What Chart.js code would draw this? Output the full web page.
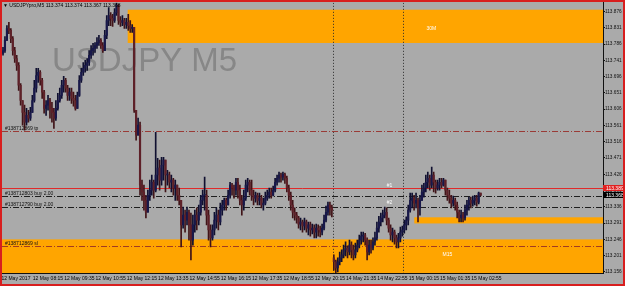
<!DOCTYPE html>
<html lang="en">
<head>
  <meta charset="UTF-8">
  <title>USDJPY M5</title>
  <script src="https://cdn.jsdelivr.net/npm/chart.js"></script>
  <style>
    html, body { margin: 0; padding: 0; background: #aaaaaa; overflow: hidden; }
    canvas { display: block; }
  </style>
</head>
<body>
  <canvas id="mtChart" width="625" height="286"></canvas>

  <script>
    const symbolTitle = 'USDJPY M5';
    const headerText = '\u25BC USDJPYpro,M5 113.374 113.374 113.367 113.368';

    // OHLC, one entry per M5 bar, 12 May 06:55 .. 15 May 03:15
    const opens = [
      113.760,113.768,113.796,113.829,113.824,113.801,113.768,113.746,113.727,113.672,
      113.630,113.597,113.570,113.589,113.581,113.597,113.630,113.664,113.699,113.708,
      113.686,113.653,113.608,113.617,113.630,113.608,113.597,113.581,113.608,113.630,
      113.644,113.672,113.686,113.664,113.644,113.653,113.636,113.630,113.608,113.644,
      113.686,113.708,113.719,113.727,113.735,113.755,113.768,113.774,113.782,113.790,
      113.796,113.782,113.768,113.810,113.851,113.865,113.857,113.851,113.873,113.893,
      113.851,113.846,113.851,113.840,113.846,113.837,113.829,113.832,113.603,113.534,
      113.562,113.396,113.377,113.354,113.321,113.368,113.382,113.404,113.382,113.424,
      113.443,113.410,113.451,113.465,113.424,113.424,113.404,113.410,113.388,113.396,
      113.368,113.354,113.286,113.313,113.299,113.321,113.286,113.244,113.286,113.313,
      113.299,113.321,113.354,113.368,113.368,113.313,113.272,113.250,113.272,113.299,
      113.313,113.294,113.327,113.341,113.354,113.341,113.368,113.396,113.388,113.382,
      113.404,113.382,113.354,113.341,113.360,113.396,113.404,113.382,113.368,113.360,
      113.368,113.354,113.360,113.341,113.346,113.360,113.368,113.377,113.368,113.382,
      113.404,113.415,113.424,113.418,113.426,113.415,113.388,113.368,113.341,113.321,
      113.313,113.305,113.288,113.294,113.283,113.294,113.277,113.286,113.272,113.277,
      113.266,113.277,113.272,113.266,113.277,113.299,113.321,113.341,113.333,113.195,
      113.184,113.167,113.184,113.195,113.203,113.217,113.222,113.211,113.230,113.217,
      113.203,113.217,113.230,113.244,113.255,113.258,113.244,113.211,113.230,113.222,
      113.239,113.250,113.277,113.294,113.305,113.313,113.321,113.299,113.277,113.258,
      113.266,113.250,113.239,113.250,113.266,113.272,113.286,113.299,113.327,113.354,
      113.360,113.346,113.354,113.333,113.354,113.377,113.388,113.404,113.415,113.396,
      113.424,113.404,113.388,113.396,113.404,113.396,113.410,113.382,113.368,113.360,
      113.346,113.354,113.341,113.321,113.305,113.313,113.305,113.327,113.341,113.354,
      113.346,113.354,113.360,113.349,113.374
    ];
    const highs = [
      113.777,113.807,113.837,113.846,113.829,113.807,113.777,113.755,113.735,113.677,
      113.630,113.617,113.608,113.603,113.611,113.644,113.686,113.719,113.719,113.713,
      113.691,113.658,113.630,113.644,113.636,113.625,113.608,113.630,113.650,113.664,
      113.686,113.697,113.691,113.672,113.664,113.664,113.653,113.644,113.653,113.699,
      113.719,113.735,113.741,113.746,113.768,113.782,113.788,113.790,113.804,113.810,
      113.801,113.790,113.824,113.865,113.887,113.873,113.868,113.884,113.901,113.895,
      113.862,113.865,113.857,113.857,113.868,113.851,113.840,113.832,113.597,113.581,
      113.570,113.410,113.396,113.368,113.382,113.410,113.424,113.410,113.542,113.470,
      113.465,113.473,113.473,113.465,113.437,113.432,113.424,113.415,113.410,113.396,
      113.388,113.354,113.335,113.327,113.335,113.327,113.319,113.313,113.327,113.333,
      113.341,113.368,113.382,113.418,113.382,113.327,113.286,113.286,113.321,113.333,
      113.327,113.346,113.354,113.360,113.360,113.382,113.404,113.401,113.396,113.415,
      113.415,113.396,113.368,113.382,113.410,113.415,113.410,113.410,113.382,113.377,
      113.374,113.374,113.368,113.360,113.377,113.382,113.388,113.388,113.393,113.415,
      113.424,113.432,113.429,113.432,113.429,113.421,113.396,113.377,113.354,113.333,
      113.321,113.310,113.305,113.299,113.305,113.299,113.294,113.294,113.288,113.286,
      113.288,113.286,113.283,113.288,113.313,113.338,113.349,113.349,113.341,113.203,
      113.189,113.195,113.211,113.217,113.230,113.239,113.228,113.244,113.239,113.230,
      113.236,113.244,113.258,113.266,113.266,113.263,113.250,113.244,113.244,113.250,
      113.266,113.294,113.310,113.319,113.327,113.335,113.333,113.305,113.286,113.277,
      113.272,113.258,113.263,113.280,113.283,113.299,113.308,113.341,113.374,113.374,
      113.368,113.374,113.360,113.368,113.396,113.401,113.424,113.432,113.424,113.446,
      113.432,113.410,113.410,113.415,113.415,113.415,113.410,113.388,113.382,113.368,
      113.366,113.360,113.349,113.327,113.327,113.321,113.341,113.354,113.363,113.363,
      113.366,113.368,113.368,113.377,113.374
    ];
    const lows = [
      113.755,113.763,113.796,113.815,113.790,113.755,113.735,113.713,113.658,113.617,
      113.562,113.548,113.562,113.570,113.575,113.597,113.625,113.653,113.680,113.672,
      113.636,113.595,113.589,113.603,113.581,113.570,113.553,113.575,113.603,113.625,
      113.636,113.653,113.653,113.630,113.630,113.622,113.614,113.603,113.608,113.641,
      113.680,113.699,113.708,113.713,113.727,113.746,113.755,113.763,113.774,113.782,
      113.774,113.763,113.768,113.801,113.837,113.837,113.835,113.846,113.865,113.840,
      113.835,113.837,113.829,113.829,113.824,113.818,113.818,113.597,113.520,113.542,
      113.368,113.354,113.327,113.305,113.327,113.354,113.368,113.360,113.377,113.396,
      113.382,113.396,113.410,113.377,113.396,113.388,113.377,113.368,113.354,113.354,
      113.341,113.225,113.277,113.266,113.286,113.244,113.189,113.230,113.266,113.272,
      113.286,113.313,113.341,113.327,113.286,113.244,113.225,113.244,113.258,113.277,
      113.272,113.286,113.313,113.327,113.327,113.341,113.360,113.368,113.360,113.368,
      113.360,113.341,113.313,113.327,113.354,113.377,113.368,113.354,113.341,113.349,
      113.341,113.341,113.333,113.327,113.341,113.354,113.360,113.360,113.366,113.377,
      113.396,113.404,113.404,113.410,113.401,113.377,113.354,113.327,113.305,113.299,
      113.291,113.277,113.272,113.266,113.272,113.266,113.258,113.255,113.261,113.250,
      113.250,113.255,113.253,113.258,113.272,113.294,113.313,113.313,113.308,113.161,
      113.150,113.156,113.175,113.184,113.195,113.200,113.195,113.203,113.195,113.189,
      113.195,113.211,113.222,113.233,113.239,113.230,113.189,113.203,113.208,113.217,
      113.230,113.244,113.266,113.283,113.294,113.305,113.286,113.266,113.244,113.239,
      113.233,113.222,113.222,113.239,113.255,113.263,113.272,113.286,113.321,113.333,
      113.327,113.333,113.294,113.313,113.354,113.363,113.377,113.388,113.382,113.388,
      113.377,113.374,113.382,113.382,113.388,113.393,113.368,113.354,113.346,113.333,
      113.338,113.327,113.305,113.294,113.294,113.294,113.299,113.313,113.327,113.333,
      113.338,113.341,113.338,113.344,113.367
    ];
    const closes = [
      113.768,113.796,113.829,113.824,113.801,113.768,113.746,113.727,113.672,113.630,
      113.597,113.570,113.589,113.581,113.597,113.630,113.664,113.699,113.708,113.686,
      113.653,113.608,113.617,113.630,113.608,113.597,113.581,113.608,113.630,113.644,
      113.672,113.686,113.664,113.644,113.653,113.636,113.630,113.608,113.644,113.686,
      113.708,113.719,113.727,113.735,113.755,113.768,113.774,113.782,113.790,113.796,
      113.782,113.768,113.810,113.851,113.865,113.857,113.851,113.873,113.893,113.851,
      113.846,113.851,113.840,113.846,113.837,113.829,113.832,113.603,113.534,113.562,
      113.396,113.377,113.354,113.321,113.368,113.382,113.404,113.382,113.424,113.443,
      113.410,113.451,113.465,113.424,113.424,113.404,113.410,113.388,113.396,113.368,
      113.354,113.286,113.313,113.299,113.321,113.286,113.244,113.286,113.313,113.299,
      113.321,113.354,113.368,113.368,113.313,113.272,113.250,113.272,113.299,113.313,
      113.294,113.327,113.341,113.354,113.341,113.368,113.396,113.388,113.382,113.404,
      113.382,113.354,113.341,113.360,113.396,113.404,113.382,113.368,113.360,113.368,
      113.354,113.360,113.341,113.346,113.360,113.368,113.377,113.368,113.382,113.404,
      113.415,113.424,113.418,113.426,113.415,113.388,113.368,113.341,113.321,113.313,
      113.305,113.288,113.294,113.283,113.294,113.277,113.286,113.272,113.277,113.266,
      113.277,113.272,113.266,113.277,113.299,113.321,113.341,113.333,113.327,113.184,
      113.167,113.184,113.195,113.203,113.217,113.222,113.211,113.230,113.217,113.203,
      113.217,113.230,113.244,113.255,113.258,113.244,113.211,113.230,113.222,113.239,
      113.250,113.277,113.294,113.305,113.313,113.321,113.299,113.277,113.258,113.266,
      113.250,113.239,113.250,113.266,113.272,113.286,113.299,113.327,113.354,113.360,
      113.346,113.354,113.333,113.354,113.377,113.388,113.404,113.415,113.396,113.424,
      113.404,113.388,113.396,113.404,113.396,113.410,113.382,113.368,113.360,113.346,
      113.354,113.341,113.321,113.305,113.313,113.305,113.327,113.341,113.354,113.346,
      113.354,113.360,113.349,113.374,113.368
    ];

    const timeTickBars = [0, 16, 32, 48, 64, 80, 96, 112, 128, 144, 160, 176, 192, 208, 224, 240];
    const timeLabels = [
      '12 May 2017', '12 May 08:15', '12 May 09:35', '12 May 10:55', '12 May 12:15',
      '12 May 13:35', '12 May 14:55', '12 May 16:15', '12 May 17:35', '12 May 18:55',
      '12 May 20:15', '14 May 21:35', '14 May 22:55', '15 May 00:15', '15 May 01:35',
      '15 May 02:55'
    ];
    const priceTicks = [
      113.876, 113.831, 113.786, 113.741, 113.696, 113.651, 113.606, 113.561, 113.516,
      113.471, 113.426, 113.381, 113.336, 113.291, 113.246, 113.201, 113.156
    ];

    // supply / demand boxes (bar range, price range)
    const zoneStart = [63.7, -0.5, 210.1];
    const zoneHigh = [113.881, 113.246, 113.307];
    const zoneLow = [113.789, 113.153, 113.290];
    const zoneNames = ['30M', 'M15', ''];
    const zoneNameBar = [218.8, 227, 0];
    const zoneNamePrice = [113.828, 113.203, 0];

    // open order levels
    const orderPrices = [113.546, 113.366, 113.336, 113.228];
    const orderTexts = ['#138712869 tp', '#138712803 buy 2.00', '#138712790 buy 2.00', '#138712869 sl'];
    const orderKinds = ['tp', 'buy', 'buy', 'sl'];
    const tradeMarks = ['#1', '#2'];
    const tradeMarkBar = [197.4, 197.4];
    const tradeMarkPrice = [113.394, 113.347];

    const separators = [168.5, 204.5];
    const askPrice = 113.389;
    const bidPrice = 113.368;
    const lastBar = 306.5;

    const smallFont = "5px 'Liberation Sans', Arial, sans-serif";
    const lineColors = { tp: '#9a3a36', buy: '#1e1e1e', sl: '#a23c20' };

    const bodyData = closes.map((c, i) => ({ x: i, y: [opens[i], c] }));
    const wickData = closes.map((c, i) => ({
      x: i,
      y: [Math.min(lows[i], opens[i], c), Math.max(highs[i], opens[i], c)]
    }));
    const isUp = closes.map((c, i) => c >= opens[i]);

    const mtPlugin = {
      id: 'mt4',
      beforeDraw(chart) {
        const c = chart.ctx;
        c.save();
        c.fillStyle = '#aaaaaa';
        c.fillRect(0, 0, chart.width, chart.height);
        c.restore();
      },
      beforeDatasetsDraw(chart) {
        const { ctx: c, chartArea: a, scales: { x, y } } = chart;
        c.save();
        c.beginPath();
        c.rect(a.left, a.top, a.right - a.left, a.bottom - a.top);
        c.clip();

        // zones
        zoneStart.forEach((s, i) => {
          const x0 = x.getPixelForValue(s), x1 = x.getPixelForValue(lastBar);
          const y0 = y.getPixelForValue(zoneHigh[i]), y1 = y.getPixelForValue(zoneLow[i]);
          c.fillStyle = '#ffa500';
          c.fillRect(x0, y0, x1 - x0, y1 - y0);
        });

        // watermark
        c.font = "33px 'Liberation Sans', Arial, sans-serif";
        c.fillStyle = '#878787';
        c.textAlign = 'left';
        c.textBaseline = 'alphabetic';
        c.fillText(symbolTitle, 52, 71);

        // period separators
        c.strokeStyle = '#2a2a2a';
        c.lineWidth = 1;
        c.setLineDash([1, 2]);
        separators.forEach(b => {
          const px = Math.round(x.getPixelForValue(b)) + 0.5;
          c.beginPath(); c.moveTo(px, a.top); c.lineTo(px, a.bottom); c.stroke();
        });

        // order lines
        c.setLineDash([6, 2, 1, 2]);
        orderPrices.forEach((p, i) => {
          const py = Math.round(y.getPixelForValue(p)) + 0.5;
          c.strokeStyle = lineColors[orderKinds[i]];
          c.beginPath(); c.moveTo(a.left, py); c.lineTo(a.right, py); c.stroke();
          c.font = smallFont;
          c.fillStyle = '#111111';
          c.textBaseline = 'bottom';
          c.fillText(orderTexts[i], 5, py);
        });

        // ask line
        c.setLineDash([]);
        c.strokeStyle = '#e02a2a';
        const ay = Math.round(y.getPixelForValue(askPrice)) + 0.5;
        c.beginPath(); c.moveTo(a.left, ay); c.lineTo(a.right, ay); c.stroke();

        // zone names and trade marks
        c.font = smallFont;
        c.fillStyle = '#ffffff';
        c.textAlign = 'center';
        c.textBaseline = 'middle';
        zoneNames.forEach((n, i) => {
          if (n) c.fillText(n, x.getPixelForValue(zoneNameBar[i]), y.getPixelForValue(zoneNamePrice[i]));
        });
        tradeMarks.forEach((t, i) => {
          c.fillText(t, x.getPixelForValue(tradeMarkBar[i]), y.getPixelForValue(tradeMarkPrice[i]));
        });
        c.restore();
      },
      afterDraw(chart) {
        const { ctx: c, chartArea: a, scales: { y } } = chart;
        c.save();
        // header
        c.font = smallFont;
        c.fillStyle = '#000000';
        c.textAlign = 'left';
        c.textBaseline = 'middle';
        c.fillText(headerText, 3, 6);

        // price boxes on the axis
        [[askPrice, '#e02020'], [bidPrice, '#000000']].forEach(([p, col]) => {
          const py = Math.round(y.getPixelForValue(p));
          c.fillStyle = col;
          c.fillRect(a.right, py - 3, chart.width - a.right, 6);
          c.fillStyle = '#ffffff';
          c.fillText(p.toFixed(3), a.right + 3, py + 0.5);
        });

        // outer frame
        c.strokeStyle = '#d81e1e';
        c.lineWidth = 2;
        c.strokeRect(1, 1, chart.width - 2, chart.height - 2);
        c.restore();
      }
    };

    const ctx = document.getElementById('mtChart').getContext('2d');
    new Chart(ctx, {
      type: 'bar',
      data: {
        datasets: [
          {
            label: 'body',
            data: bodyData,
            backgroundColor: isUp.map(u => u ? '#18184a' : '#5e2028'),
            barThickness: 1.5,
            minBarLength: 1,
            grouped: false,
            order: 1
          },
          {
            label: 'wick',
            data: wickData,
            backgroundColor: isUp.map(u => u ? '#101030' : '#401418'),
            barThickness: 1,
            grouped: false,
            order: 2
          }
        ]
      },
      options: {
        responsive: false,
        animation: false,
        devicePixelRatio: 1,
        layout: { padding: { left: 2, top: 0, right: 0, bottom: 0 } },
        plugins: { legend: { display: false }, tooltip: { enabled: false } },
        scales: {
          x: {
            type: 'linear',
            min: -0.5,
            max: lastBar,
            offset: false,
            grid: { display: false, drawTicks: false },
            border: { display: true, color: '#111111' },
            afterBuildTicks: s => { s.ticks = timeTickBars.map(v => ({ value: v })); },
            afterFit: s => { s.height = 13; },
            ticks: {
              autoSkip: false,
              maxRotation: 0,
              align: 'start',
              labelOffset: -1.5,
              padding: 3,
              color: '#000000',
              font: { family: "'Liberation Sans', Arial, sans-serif", size: 5 },
              callback: v => timeLabels[timeTickBars.indexOf(v)] || ''
            }
          },
          y: {
            position: 'right',
            min: 113.153,
            max: 113.900,
            grid: { display: true, drawOnChartArea: false, drawTicks: true, tickLength: 2, color: '#111111' },
            border: { display: true, color: '#111111' },
            afterBuildTicks: s => { s.ticks = priceTicks.map(v => ({ value: v })); },
            afterFit: s => { s.width = 22; },
            ticks: {
              padding: 0,
              color: '#111111',
              font: { family: "'Liberation Sans', Arial, sans-serif", size: 4.7 },
              callback: v => v.toFixed(3)
            }
          }
        }
      },
      plugins: [mtPlugin]
    });
  </script>
</body>
</html>
